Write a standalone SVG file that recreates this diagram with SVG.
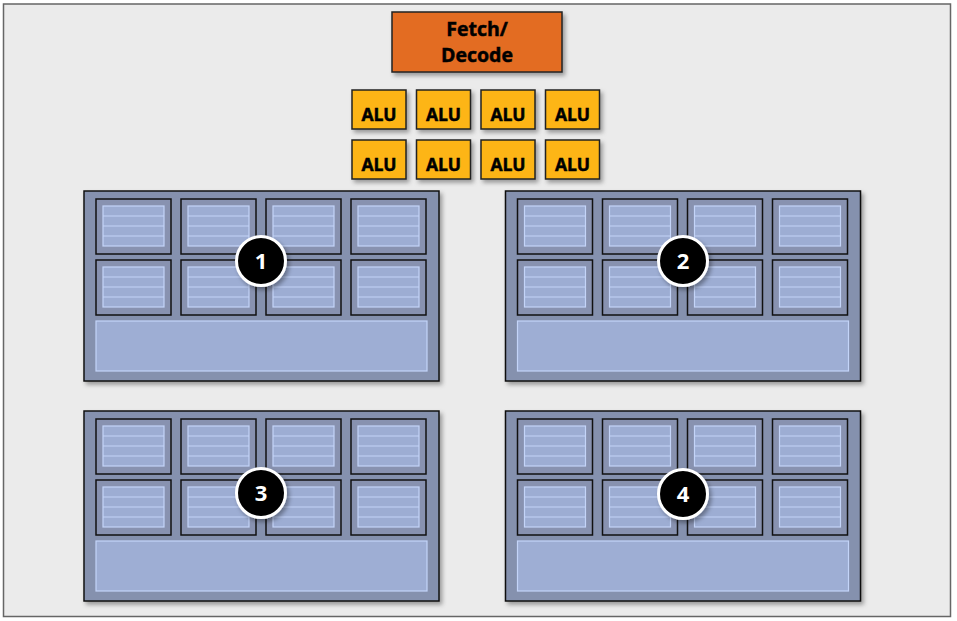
<svg xmlns="http://www.w3.org/2000/svg" width="957" height="621" viewBox="0 0 957 621">
<style>
.t{font-family:"Open Sans","Liberation Sans",sans-serif;font-weight:bold;text-anchor:middle;fill:#000;stroke:#000;stroke-width:0.5}
.alu rect{fill:#FDB515;stroke:#222;stroke-width:1.5}
.alu text{font-size:17.5px}
.blk{fill:#8591AE;stroke:#111;stroke-width:1.5}
.cell{fill:#8892B0;stroke:#111;stroke-width:1.5}
.reg{fill:#9DADD3;stroke:#C4D4F8;stroke-width:1.2}
.big{fill:#9EAED4;stroke:#C4D4F8;stroke-width:1.2}
.ln{stroke:#C4D4F8;stroke-width:1.2}
.badge circle{fill:#000;stroke:#fff;stroke-width:3}
.badge text{font-family:"Open Sans","Liberation Sans",sans-serif;font-weight:bold;font-size:22px;fill:#fff;text-anchor:middle}
</style>
<defs>
<filter id="sh" x="-10%" y="-10%" width="130%" height="130%">
<feDropShadow dx="2.5" dy="3" stdDeviation="2" flood-color="#000" flood-opacity="0.35"/>
</filter>
<g id="cellT">
<rect class="cell" x="0" y="0" width="75" height="55"/>
<rect class="reg" x="7" y="7" width="61" height="40"/>
<line class="ln" x1="7" y1="17" x2="68" y2="17"/>
<line class="ln" x1="7" y1="27" x2="68" y2="27"/>
<line class="ln" x1="7" y1="37" x2="68" y2="37"/>
</g>
<g id="coreT">
<rect class="blk" x="0" y="0" width="355" height="190" filter="url(#sh)"/>
<use href="#cellT" x="12" y="8"/>
<use href="#cellT" x="97" y="8"/>
<use href="#cellT" x="182" y="8"/>
<use href="#cellT" x="267" y="8"/>
<use href="#cellT" x="12" y="69"/>
<use href="#cellT" x="97" y="69"/>
<use href="#cellT" x="182" y="69"/>
<use href="#cellT" x="267" y="69"/>
<rect class="big" x="12" y="130" width="331" height="50"/>
</g>
</defs>
<rect x="0" y="0" width="957" height="621" fill="#fff"/>
<rect x="3.5" y="4" width="947" height="612.5" fill="#EBEBEB" stroke="#666" stroke-width="1.5"/>

<g id="fetch">
<rect x="392" y="12" width="170" height="60" fill="#E36C22" stroke="#222" stroke-width="1.5" filter="url(#sh)"/>
<text class="t" x="477" y="36" font-size="19.5">Fetch/</text>
<text class="t" x="477" y="62" font-size="19.5">Decode</text>
</g>

<g id="alu1" class="alu"><rect x="352" y="90" width="54" height="39" filter="url(#sh)"/><text class="t" x="379" y="121">ALU</text></g>
<g id="alu2" class="alu"><rect x="416.5" y="90" width="54" height="39" filter="url(#sh)"/><text class="t" x="443.5" y="121">ALU</text></g>
<g id="alu3" class="alu"><rect x="481" y="90" width="54" height="39" filter="url(#sh)"/><text class="t" x="508" y="121">ALU</text></g>
<g id="alu4" class="alu"><rect x="545.5" y="90" width="54" height="39" filter="url(#sh)"/><text class="t" x="572.5" y="121">ALU</text></g>
<g id="alu5" class="alu"><rect x="352" y="140" width="54" height="39" filter="url(#sh)"/><text class="t" x="379" y="171">ALU</text></g>
<g id="alu6" class="alu"><rect x="416.5" y="140" width="54" height="39" filter="url(#sh)"/><text class="t" x="443.5" y="171">ALU</text></g>
<g id="alu7" class="alu"><rect x="481" y="140" width="54" height="39" filter="url(#sh)"/><text class="t" x="508" y="171">ALU</text></g>
<g id="alu8" class="alu"><rect x="545.5" y="140" width="54" height="39" filter="url(#sh)"/><text class="t" x="572.5" y="171">ALU</text></g>

<g id="core1"><use href="#coreT" x="84" y="191"/></g>
<g id="core2"><use href="#coreT" x="505.5" y="191"/></g>
<g id="core3"><use href="#coreT" x="84" y="411"/></g>
<g id="core4"><use href="#coreT" x="505.5" y="411"/></g>

<g id="badge1" class="badge"><circle cx="261" cy="261" r="24.5" filter="url(#sh)"/><text x="261" y="269">1</text></g>
<g id="badge2" class="badge"><circle cx="683" cy="261" r="24.5" filter="url(#sh)"/><text x="683" y="269">2</text></g>
<g id="badge3" class="badge"><circle cx="261" cy="493" r="24.5" filter="url(#sh)"/><text x="261" y="501">3</text></g>
<g id="badge4" class="badge"><circle cx="683" cy="494" r="24.5" filter="url(#sh)"/><text x="683" y="502">4</text></g>

<g id="connectors"></g>
</svg>
